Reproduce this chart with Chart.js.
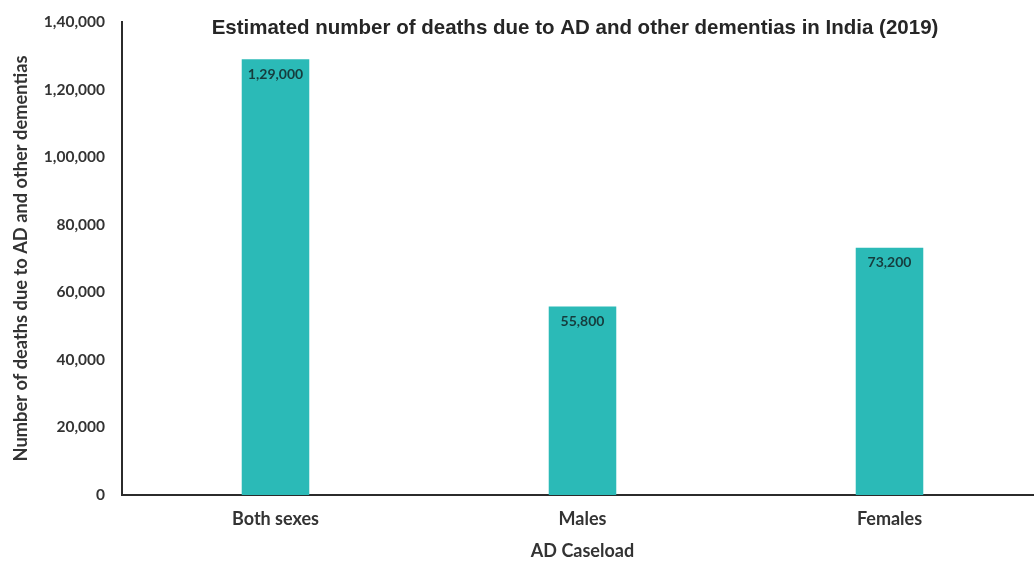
<!DOCTYPE html>
<html>
<head>
<meta charset="utf-8">
<script src="https://cdn.jsdelivr.net/npm/chart.js@4.4.1/dist/chart.umd.min.js"></script>
<style>
  html, body { margin: 0; padding: 0; background: #fff; overflow: hidden; }
  #wrap { width: 1050px; height: 562px; }
</style>
</head>
<body>
<div id="wrap"><canvas id="c" width="1050" height="562"></canvas></div>
<script>
// Deaths due to Alzheimer's disease and other dementias, India 2019
const categories = ['Both sexes', 'Males', 'Females'];
const deaths = [129000, 55800, 73200];
const yTicks = [0, 20000, 40000, 60000, 80000, 100000, 120000, 140000];

const TITLE = 'Estimated number of deaths due to AD and other dementias in India (2019)';
const Y_TITLE = 'Number of deaths due to AD and other dementias';
const X_TITLE = 'AD Caseload';

// Indian digit grouping: 1,29,000
function fmtIN(n) {
  const s = String(Math.round(n));
  if (s.length <= 3) return s;
  const last3 = s.slice(-3);
  let rest = s.slice(0, -3);
  const parts = [];
  while (rest.length > 2) { parts.unshift(rest.slice(-2)); rest = rest.slice(0, -2); }
  if (rest) parts.unshift(rest);
  return parts.join(',') + ',' + last3;
}

const UI_FONT = 'Lato, "Open Sans", sans-serif';

const overlay = {
  id: 'overlay',
  afterDatasetsDraw(chart) {
    const ctx = chart.ctx;
    const meta = chart.getDatasetMeta(0);
    ctx.save();
    ctx.fillStyle = '#163c3d';
    ctx.font = 'bold 14px ' + UI_FONT;
    ctx.textAlign = 'center';
    ctx.textBaseline = 'middle';
    meta.data.forEach((bar, i) => {
      ctx.fillText(fmtIN(deaths[i]), bar.x, bar.y + 15);
    });
    // chart title
    ctx.fillStyle = '#262626';
    ctx.font = 'bold 20.5px "Liberation Sans", Arial, sans-serif';
    ctx.fillText(TITLE, 575, 28);
    ctx.restore();
  }
};

new Chart(document.getElementById('c'), {
  type: 'bar',
  data: {
    labels: categories,
    datasets: [{
      data: deaths,
      backgroundColor: '#2bbab7',
      borderWidth: 0,
      barPercentage: 0.22,
      categoryPercentage: 1.0
    }]
  },
  options: {
    responsive: false,
    animation: false,
    layout: { padding: { top: 22, right: 7, left: 10, bottom: 0 } },
    plugins: { legend: { display: false }, tooltip: { enabled: false } },
    scales: {
      x: {
        grid: { display: false, drawTicks: false },
        border: { display: true, color: '#2b2b2b', width: 2 },
        ticks: { color: '#333', font: { family: UI_FONT, size: 18, weight: 'bold' }, padding: 13 },
        title: { display: true, text: X_TITLE, color: '#333', font: { family: UI_FONT, size: 18, weight: 'bold' }, padding: { top: 4, bottom: 0 } },
        afterFit(s) { s.height = 67; }
      },
      y: {
        min: 0, max: 140000,
        afterBuildTicks(s) { s.ticks = yTicks.map(v => ({ value: v })); },
        grid: { display: false, drawTicks: false },
        border: { display: true, color: '#2b2b2b', width: 2 },
        ticks: { color: '#333', font: { family: UI_FONT, size: 15.5, weight: 'bold' }, padding: 17, callback: v => fmtIN(v) },
        title: { display: true, text: Y_TITLE, color: '#333', font: { family: UI_FONT, size: 18.3, weight: 'bold' }, padding: 0 },
        afterFit(s) { s.width = 112; s.paddingTop = 0; s.paddingBottom = 0; }
      }
    }
  },
  plugins: [overlay]
});
</script>
</body>
</html>
